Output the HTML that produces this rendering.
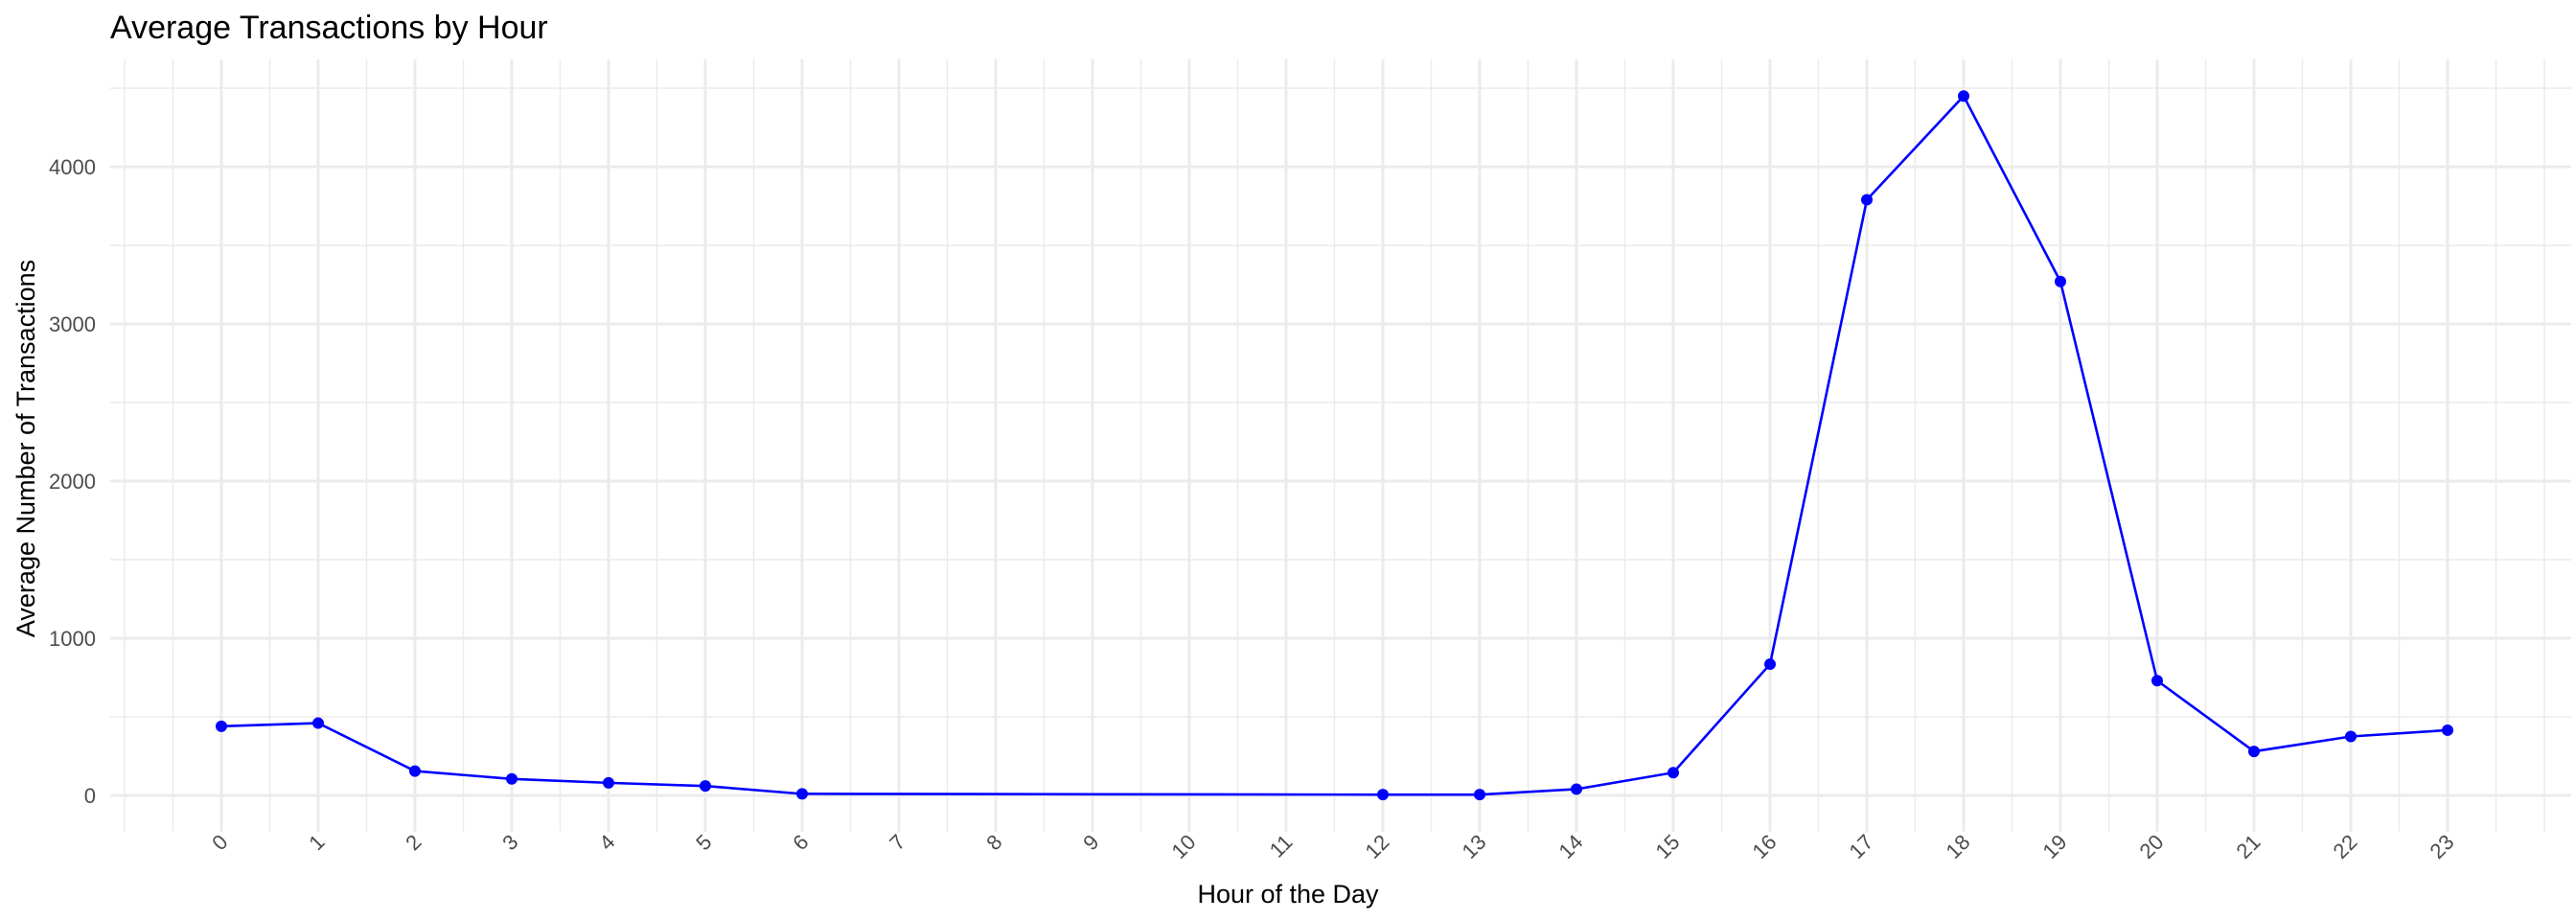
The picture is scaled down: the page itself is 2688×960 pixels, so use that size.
<!DOCTYPE html>
<html><head><meta charset="utf-8"><style>
html,body{margin:0;padding:0;background:#fff;}
svg{display:block;font-family:"Liberation Sans",sans-serif;}
</style></head><body>
<svg id="chart" width="2688" height="960">
<g id="grid"></g>
<g id="axes"></g>
<g id="series"></g>
<text x="115" y="40" font-size="34" fill="#000">Average Transactions by Hour</text>
<text x="1344" y="942" font-size="27" fill="#000" text-anchor="middle">Hour of the Day</text>
<text transform="translate(36,468) rotate(-90)" font-size="27" fill="#000" text-anchor="middle">Average Number of Transactions</text>
</svg>
<script>
const hours = [0,1,2,3,4,5,6,12,13,14,15,16,17,18,19,20,21,22,23];
const avgTx = [440,460,155,105,80,60,10,5,5,40,145,835,3790,4450,3270,730,280,375,415];
const xTicks = [0,1,2,3,4,5,6,7,8,9,10,11,12,13,14,15,16,17,18,19,20,21,22,23];
const yTicks = [0,1000,2000,3000,4000];
const NS="http://www.w3.org/2000/svg";
const X=h=>231+101*h;
const Y=v=>830-0.164*v;
const PL=115,PR=2683,PT=62,PB=868;
function mk(tag,attrs,parent){const e=document.createElementNS(NS,tag);for(const k in attrs)e.setAttribute(k,attrs[k]);parent.appendChild(e);return e;}
const grid=document.getElementById('grid'),axes=document.getElementById('axes'),series=document.getElementById('series');
for(let v=500;v<=4500;v+=1000){const l=mk('line',{x1:PL,x2:PR,y1:Y(v),y2:Y(v),stroke:'#ebebeb','stroke-width':1.5},grid);

}
for(let h=-1;h<=24;h+=0.5){if(Number.isInteger(h)&&h>=0&&h<=23)continue;const l=mk('line',{x1:X(h),x2:X(h),y1:PT,y2:PB,stroke:'#ebebeb','stroke-width':1.5},grid);

}
yTicks.forEach(v=>{const l=mk('line',{x1:PL,x2:PR,y1:Y(v),y2:Y(v),stroke:'#ebebeb','stroke-width':3},grid);


const t=mk('text',{x:100,y:Y(v)+8,'font-size':22,fill:'#4d4d4d','text-anchor':'end'},axes);t.textContent=v;

});
xTicks.forEach(h=>{const l=mk('line',{x1:X(h),x2:X(h),y1:PT,y2:PB,stroke:'#ebebeb','stroke-width':3},grid);


const t=mk('text',{transform:`translate(${X(h)+8},${880}) rotate(-45)`,'font-size':22,fill:'#4d4d4d','text-anchor':'end'},axes);t.textContent=h;

});
const pts=hours.map((h,i)=>X(h)+','+Y(avgTx[i])).join(' ');
const pl=mk('polyline',{points:pts,fill:'none',stroke:'#0000ff','stroke-width':2.6},series);


hours.forEach((h,i)=>{const c=mk('circle',{cx:X(h),cy:Y(avgTx[i]),r:6,fill:'#0000ff'},series);

});
</script>
</body></html>
